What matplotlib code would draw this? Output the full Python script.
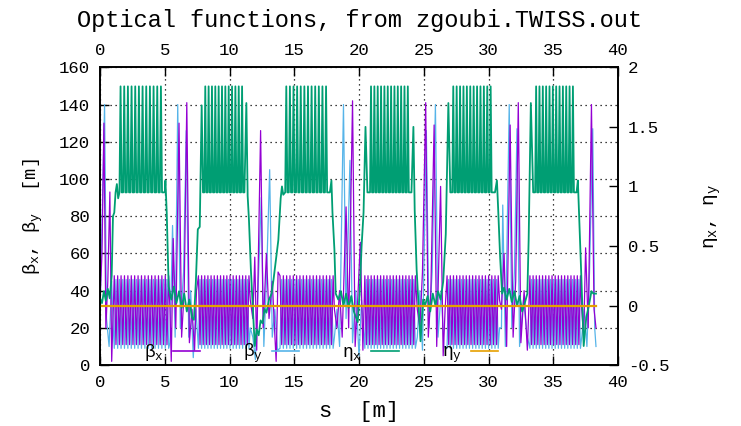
import matplotlib
matplotlib.use("Agg")
import matplotlib.pyplot as plt
from matplotlib.lines import Line2D

plt.rcParams['font.family'] = ['Liberation Mono', 'DejaVu Sans Mono']
plt.rcParams['mathtext.fontset'] = 'custom'
plt.rcParams['mathtext.rm'] = 'Liberation Mono'
plt.rcParams['mathtext.it'] = 'Liberation Mono'

# gnuplot default line colours
c_bx = '#9400D3'
c_by = '#56B4E9'
c_ex = '#009E73'
c_ey = '#E69F00'

# arc sections: s range of the dispersion teeth and of the beta oscillation [m]
arc_start = [1.5, 8.05, 14.3, 20.85, 27.2, 33.6]
arc_end = [4.9, 11.15, 17.65, 23.95, 30.35, 36.7]
beta_start = [1.1, 7.6, 13.9, 20.45, 26.8, 33.2]
beta_end = [5.3, 11.5, 18.0, 24.35, 30.75, 37.1]
n_eta_cells = 12
n_beta_cells = 16

# one periodic cell: fraction along the cell -> value
eta_cell_f = [0.0, 0.3, 0.6]
eta_cell = [0.95, 1.84, 0.95]
beta_cell_f = [0.0, 0.5]
bx_cell = [48, 11]
by_cell = [9, 46]

# straight sections between arcs, beta_x [m]
bx_s = [0.0, 0.15, 0.3, 0.45, 0.6, 0.76, 0.9, 1.02,
        5.4, 5.5, 5.65, 5.85, 6.1, 6.3, 6.5, 6.7, 6.9, 7.1, 7.3, 7.45,
        11.6, 11.8, 11.95, 12.1, 12.4, 12.6, 12.85, 13.05, 13.3, 13.6, 13.75,
        18.1, 18.3, 18.5, 18.7, 19.0, 19.2, 19.5, 19.7, 19.9, 20.1, 20.3,
        24.5, 24.7, 24.9, 25.15, 25.35, 25.55, 25.8, 26.0, 26.3, 26.5, 26.65,
        30.85, 31.0, 31.2, 31.4, 31.67, 31.9, 32.1, 32.3, 32.5, 32.75, 33.0,
        37.2, 37.35, 37.5, 37.7, 37.95, 38.15, 38.3]
bx_v = [35, 60, 130, 20, 45, 93, 2, 30,
        30, 2, 68, 20, 130, 15, 40, 141, 12, 30, 8, 40,
        35, 25, 58, 8, 126, 20, 60, 25, 45, 2, 50,
        30, 20, 40, 15, 85, 20, 142, 10, 35, 66, 8,
        30, 20, 50, 141, 15, 40, 129, 10, 96, 5, 30,
        35, 30, 60, 10, 129, 15, 45, 141, 12, 40, 8,
        30, 15, 63, 20, 140, 30, 20]

# straight sections, beta_y [m]
by_s = [0.0, 0.2, 0.35, 0.5, 0.7, 0.9, 1.02,
        5.4, 5.6, 5.8, 6.0, 6.2, 6.45, 6.66, 6.85, 7.0, 7.2, 7.4,
        11.6, 11.8, 12.0, 12.2, 12.45, 12.65, 12.85, 13.1, 13.3, 13.5, 13.7,
        18.1, 18.3, 18.5, 18.8, 19.0, 19.3, 19.5, 19.75, 20.0, 20.2,
        24.5, 24.7, 24.9, 25.2, 25.4, 25.65, 25.9, 26.1, 26.35, 26.55,
        30.85, 31.0, 31.1, 31.3, 31.6, 31.8, 32.0, 32.2, 32.4, 32.7, 33.0,
        37.2, 37.4, 37.6, 37.8, 38.05, 38.2, 38.3]
by_v = [30, 90, 140, 25, 10, 45, 20,
        12, 75, 15, 140, 20, 50, 126, 15, 40, 4, 30,
        20, 15, 3, 40, 90, 10, 45, 105, 15, 30, 8,
        15, 30, 10, 140, 25, 110, 12, 40, 5, 35,
        15, 40, 8, 126, 20, 50, 140, 15, 40, 10,
        20, 20, 86, 10, 140, 20, 50, 127, 10, 35, 15,
        15, 30, 10, 50, 127, 20, 10]

# straight sections, eta_x [m]
ex_s = [0.0, 0.15, 0.3, 0.45, 0.6, 0.75, 0.9, 1.0, 1.1, 1.2, 1.3, 1.4,
        5.0, 5.05, 5.15, 5.3, 5.5, 5.7, 5.9, 6.1, 6.3, 6.5, 6.7, 6.9, 7.1,
        7.25, 7.4, 7.55, 7.7, 7.85, 7.95,
        11.3, 11.4, 11.5, 11.65, 11.95, 12.1, 12.25, 12.4, 12.55, 12.7, 12.85,
        13.05, 13.25, 13.4, 13.6, 13.77, 13.95, 14.05, 14.15,
        17.75, 17.87, 17.95, 18.1, 18.2, 18.4, 18.6, 18.8, 19.0, 19.2, 19.4,
        19.6, 19.9, 20.05, 20.2, 20.35, 20.5, 20.65,
        24.05, 24.2, 24.3, 24.45, 24.6, 24.75, 24.95, 25.1, 25.3, 25.5, 25.7,
        25.9, 26.1, 26.3, 26.5, 26.7, 26.9, 27.05,
        30.5, 30.65, 30.75, 30.9, 31.05, 31.2, 31.4, 31.6, 31.8, 32.0, 32.2,
        32.4, 32.6, 32.8, 33.0, 33.1, 33.27, 33.45,
        36.8, 36.9, 37.0, 37.15, 37.35, 37.55, 37.75, 37.95, 38.1, 38.3]
ex_v = [0.06, 0.02, 0.12, 0.04, 0.14, 0.06, 0.25, 0.75, 0.78, 0.95, 1.02, 0.9,
        0.95, 1.05, 0.78, 0.16, 0.05, 0.16, 0.02, 0.12, -0.02, 0.1, -0.05, 0.05, -0.1,
        -0.12, 0.2, 0.64, 0.66, 1.68, 0.95,
        1.70, 0.92, 0.72, 0.3, -0.34, -0.2, -0.25, -0.125, -0.15, -0.03, -0.06,
        0.05, 0.1, 0.22, 0.4, 0.55, 0.9, 1.0, 0.93,
        0.95, 1.05, 0.78, 0.47, 0.1, 0.05, 0.12, 0.0, 0.1, -0.02, 0.08,
        -0.05, -0.14, 0.1, 0.5, 0.78, 1.5, 0.95,
        0.95, 1.5, 0.8, 0.3, 0.0, -0.3, 0.05, 0.0, 0.08, -0.05, 0.1,
        0.0, 0.12, 0.05, 0.2, 0.6, 1.7, 0.95,
        0.95, 1.05, 0.8, 0.4, 0.1, 0.15, 0.05, 0.14, 0.03, 0.12, 0.0,
        0.08, -0.05, 0.02, 0.1, 0.55, 1.7, 0.95,
        0.95, 1.05, 0.75, 0.3, -0.34, -0.1, 0.0, 0.12, 0.1, 0.1]

# eta_y stays at zero along the whole line
ey_s = [0.0, 38.3]
ey_v = [0.0, 0.0]


def arc_cells(s0, s1, n, frac, vals):
    step = (s1 - s0) / n
    s = [s0 + (i + f) * step for i in range(n) for f in frac] + [s1]
    v = list(vals) * n + [vals[0]]
    return s, v


def build(s_str, v_str, starts, ends, n, frac, vals):
    pts = list(zip(s_str, v_str))
    for a, b in zip(starts, ends):
        s, v = arc_cells(a, b, n, frac, vals)
        pts += list(zip(s, v))
    pts.sort()
    return [p[0] for p in pts], [p[1] for p in pts]


bx = build(bx_s, bx_v, beta_start, beta_end, n_beta_cells, beta_cell_f, bx_cell)
by = build(by_s, by_v, beta_start, beta_end, n_beta_cells, beta_cell_f, by_cell)
ex = build(ex_s, ex_v, arc_start, arc_end, n_eta_cells, eta_cell_f, eta_cell)

fig = plt.figure(figsize=(7.41, 4.26), dpi=100)
ax = fig.add_axes([0.135, 0.143, 0.699, 0.699])
ax2 = ax.twinx()

ax.plot(by[0], by[1], color=c_by, lw=0.9)
ax.plot(bx[0], bx[1], color=c_bx, lw=0.9)
ax2.plot(ex[0], ex[1], color=c_ex, lw=1.3)
ax2.plot(ey_s, ey_v, color=c_ey, lw=1.6)

ax.set_xlim(0, 40)
ax.set_ylim(0, 160)
ax2.set_ylim(-0.5, 2)
ax.set_xticks(range(0, 41, 5))
ax.set_yticks(range(0, 161, 20))
ax2.set_yticks([-0.5, 0, 0.5, 1, 1.5, 2])
ax2.set_yticklabels(['-0.5', '0', '0.5', '1', '1.5', '2'])

ax.grid(True, linestyle=(0, (1, 3)), color='black', lw=0.9)
ax.tick_params(axis='x', which='both', direction='in', top=True, labeltop=True,
               length=6.5, width=1, labelsize=12.5, pad=7)
ax.tick_params(axis='y', direction='in', right=False, length=6.5, width=1,
               labelsize=12.5, pad=7)
ax2.tick_params(axis='y', direction='in', length=6.5, width=1, labelsize=12.5, pad=7)
for sp in ax.spines.values():
    sp.set_linewidth(1.2)
for sp in ax2.spines.values():
    sp.set_linewidth(1.2)

ax.set_title('Optical functions, from zgoubi.TWISS.out', fontsize=17, pad=11)
ax.set_xlabel('s  [m]', fontsize=16, labelpad=8)
ax.set_ylabel('β$_\\mathrm{x}$, β$_\\mathrm{y}$  [m]', fontsize=13.5, labelpad=10)
ax2.set_ylabel('η$_\\mathrm{x}$, η$_\\mathrm{y}$', fontsize=14, labelpad=24)

handles = [Line2D([], [], color=c, lw=1.2) for c in (c_bx, c_by, c_ex, c_ey)]
labels = ['β$_\\mathrm{x}$', 'β$_\\mathrm{y}$', 'η$_\\mathrm{x}$', 'η$_\\mathrm{y}$']
ax2.legend(handles, labels, ncol=4, loc='lower left', bbox_to_anchor=(0.07, -0.025),
           frameon=False, markerfirst=False, fontsize=13, handlelength=1.5,
           handletextpad=0.5, columnspacing=2.4, borderaxespad=0)

fig.savefig('out.png', dpi=100)
